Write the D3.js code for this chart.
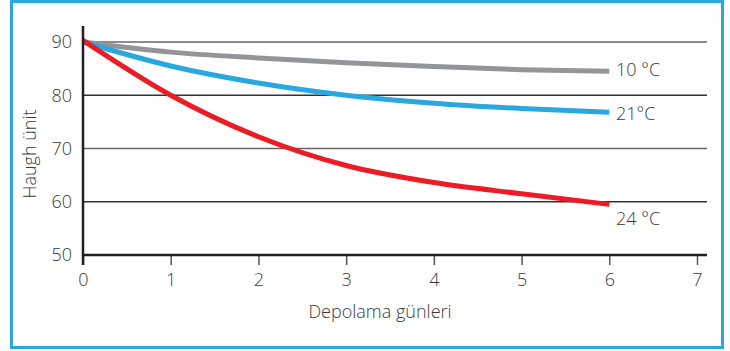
<!DOCTYPE html>
<html>
<head>
<meta charset="utf-8">
<script src="https://cdn.jsdelivr.net/npm/d3@7"></script>
<style>
  body { margin: 0; background: #fff; }
  text { font-family: "Open Sans", sans-serif; font-weight: 300; fill: #3a3a3a; }
</style>
</head>
<body>
<div class="canvas"></div>
<script>
// data
const days = [0, 1, 2, 3, 4, 5, 6];
const haugh10 = [90, 88.1, 87, 86.1, 85.4, 84.8, 84.5];
const haugh21 = [90, 85.5, 82.3, 80, 78.5, 77.5, 76.8];
const haugh24 = [90.3, 80, 72.2, 66.8, 63.6, 61.5, 59.5];
const seriesLabels = ['10 °C', '21°C', '24 °C'];
const xTicks = [0, 1, 2, 3, 4, 5, 6, 7];
const yTicks = [50, 60, 70, 80, 90];

const width = 730, height = 351;

const svg = d3.select('.canvas')
  .append('svg')
    .attr('width', width)
    .attr('height', height);

// blue frame
svg.append('rect')
  .attr('x', 11.5).attr('y', 1.5)
  .attr('width', 711).attr('height', 346)
  .attr('fill', 'none')
  .attr('stroke', '#29a8e0')
  .attr('stroke-width', 3);

const x = d3.scaleLinear().domain([0, 7]).range([83, 697]);
const y = d3.scaleLinear().domain([50, 90]).range([255, 42]);
const xEnd = 707;

// gridlines
svg.append('g')
  .selectAll('line')
  .data(yTicks.filter(d => d > 50))
  .enter()
  .append('line')
    .attr('x1', x(0)).attr('x2', xEnd)
    .attr('y1', d => y(d)).attr('y2', d => y(d))
    .attr('stroke', d => (d === 90 || d === 70) ? '#666' : '#333')
    .attr('stroke-width', 1.4);

// lines
const series = [
  {name: seriesLabels[0], values: haugh10, color: '#939598'},
  {name: seriesLabels[1], values: haugh21, color: '#29a8e0'},
  {name: seriesLabels[2], values: haugh24, color: '#ed1c24'}
];

const line = d3.line()
  .x((d, i) => x(days[i]))
  .y(d => y(d))
  .curve(d3.curveMonotoneX);

svg.append('g')
  .selectAll('path')
  .data(series)
  .enter()
  .append('path')
    .attr('d', d => line(d.values))
    .attr('fill', 'none')
    .attr('stroke', d => d.color)
    .attr('stroke-width', 5);

// end labels
const labelY = [70, 114, 219];
svg.append('g')
  .selectAll('text')
  .data(series)
  .enter()
  .append('text')
    .attr('x', 616)
    .attr('y', (d, i) => labelY[i])
    .attr('dy', '0.35em')
    .attr('font-size', 18)
    .text(d => d.name);

// x axis
const xAxis = d3.axisBottom(x)
  .tickValues(xTicks)
  .tickSize(10)
  .tickPadding(8)
  .tickFormat(d3.format('d'));

const xAxisGroup = svg.append('g')
  .attr('transform', `translate(0, ${y(50)})`)
  .call(xAxis);

xAxisGroup.select('.domain').remove();
xAxisGroup.selectAll('.tick line').attr('stroke', '#555').attr('stroke-width', 1.5);
xAxisGroup.selectAll('text')
  .attr('font-size', 18)
  .attr('font-family', '"Open Sans", sans-serif')
  .attr('fill', '#444');

xAxisGroup.append('line')
  .attr('x1', x(0)).attr('x2', xEnd)
  .attr('y1', 0).attr('y2', 0)
  .attr('stroke', '#231f20')
  .attr('stroke-width', 2.5);

// y axis
const yAxis = d3.axisLeft(y)
  .tickValues(yTicks)
  .tickSize(0)
  .tickPadding(11);

const yAxisGroup = svg.append('g')
  .attr('transform', `translate(${x(0)}, 0)`)
  .call(yAxis);

yAxisGroup.select('.domain').remove();
yAxisGroup.selectAll('text')
  .attr('font-size', 18)
  .attr('font-family', '"Open Sans", sans-serif')
  .attr('fill', '#444');

yAxisGroup.append('line')
  .attr('x1', 0).attr('x2', 0)
  .attr('y1', 26).attr('y2', y(50) + 10)
  .attr('stroke', '#231f20')
  .attr('stroke-width', 2.5);

// axis titles
svg.append('text')
  .attr('x', 380).attr('y', 318)
  .attr('text-anchor', 'middle')
  .attr('font-size', 18)
  .attr('fill', '#444')
  .text('Depolama günleri');

svg.append('text')
  .attr('transform', 'translate(36, 154) rotate(-90)')
  .attr('text-anchor', 'middle')
  .attr('font-size', 18)
  .attr('fill', '#444')
  .text('Haugh ünit');
</script>
</body>
</html>
